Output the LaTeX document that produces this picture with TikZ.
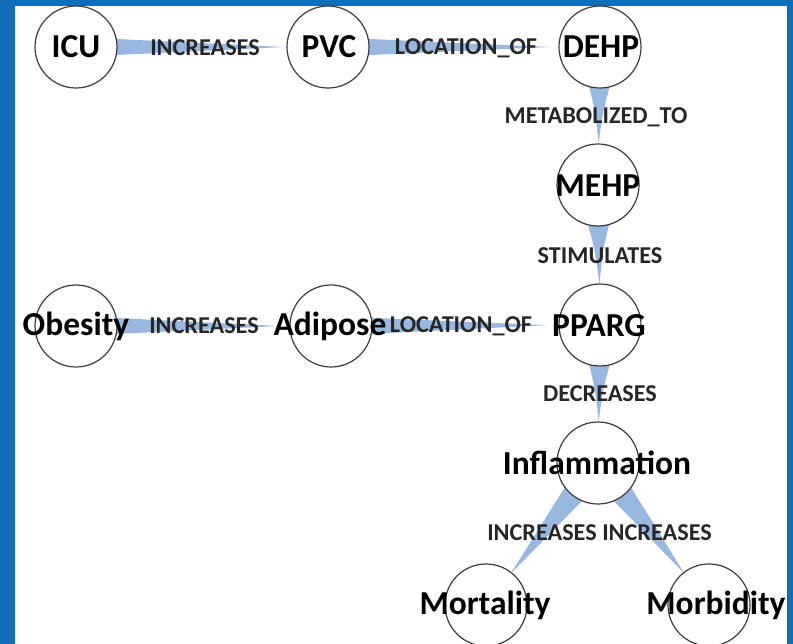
\documentclass[tikz,border=0pt]{standalone}
\usepackage{fontspec}
\setmainfont{Carlito}
\usetikzlibrary{calc}
\definecolor{frameblue}{RGB}{16,110,184}
\definecolor{bandblue}{RGB}{152,184,224}
\definecolor{ringgray}{RGB}{60,60,60}
% #1 source node, #2 target node, #3 half width, #4 control offset, #5 gap at target
\newcommand\taper[5]{%
  \path ($(#1)!30pt!(#2)$) coordinate (tpS) ($(#2)!#5!(#1)$) coordinate (tpT)
        ($(tpS)!0.5!(tpT)$) coordinate (tpM);
  \fill[band] ($(tpS)!#3!90:(tpT)$) .. controls ($(tpM)!#4!90:(tpT)$) .. (tpT)
        .. controls ($(tpM)!#4!-90:(tpT)$) .. ($(tpS)!#3!-90:(tpT)$) -- cycle;
}
\begin{document}
\begin{tikzpicture}[x=1pt,y=-1pt,
  ring/.style={circle,draw=ringgray,line width=1.2pt,fill=white,minimum size=82pt,inner sep=0pt},
  nlab/.style={font=\fontsize{33.5}{34}\selectfont\bfseries,text=black,inner sep=0pt},
  elab/.style={font=\fontsize{24.2}{25}\selectfont\bfseries,text=black!85,inner sep=0pt},
  band/.style={fill=bandblue}]
\useasboundingbox (0,0) rectangle (793,644);
\fill[frameblue] (0,0) rectangle (793,644);
\fill[white] (15,6) rectangle (787,644);

% circle positions
\coordinate (icu) at (76,47);
\coordinate (pvc) at (328,47);
\coordinate (dehp) at (600,47);
\coordinate (mehp) at (598,185);
\coordinate (pparg) at (600,325);
\coordinate (infl) at (598,463);
\coordinate (mort) at (486,605);
\coordinate (morb) at (709,605);
\coordinate (obes) at (76,326);
\coordinate (adip) at (331,326);

% tapered connectors
\taper{icu}{pvc}{8.5pt}{5pt}{44pt}
\taper{pvc}{dehp}{8.5pt}{5pt}{50pt}
\taper{dehp}{mehp}{13pt}{4pt}{42pt}
\taper{mehp}{pparg}{13pt}{4pt}{41pt}
\taper{obes}{adip}{8.5pt}{5pt}{52pt}
\taper{adip}{pparg}{8.5pt}{5pt}{53pt}
\taper{pparg}{infl}{13pt}{4pt}{42pt}
\taper{infl}{mort}{12pt}{6pt}{40pt}
\taper{infl}{morb}{12pt}{6pt}{40pt}

% circles
\node[ring] (icuC) at (icu) {};
\node[ring] (pvcC) at (pvc) {};
\node[ring] (dehpC) at (dehp) {};
\node[ring] (mehpC) at (mehp) {};
\node[ring] (ppargC) at (pparg) {};
\node[ring] (inflC) at (infl) {};
\node[ring] (mortC) at (mort) {};
\node[ring] (morbC) at (morb) {};
\node[ring] (obesC) at (obes) {};
\node[ring] (adipC) at (adip) {};

% node labels
\node[nlab] (icuT) at (76,47) {ICU};
\node[nlab] (pvcT) at (329,47) {PVC};
\node[nlab] (dehpT) at (601,47) {DEHP};
\node[nlab] (mehpT) at (598,186) {MEHP};
\node[nlab] (ppargT) at (599,326) {PPARG};
\node[nlab] (inflT) at (597,463) {Inflammation};
\node[nlab] (mortT) at (485,605) {Mortality};
\node[nlab] (morbT) at (716,605) {Morbidity};
\node[nlab] (obesT) at (76,326) {Obesity};
\node[nlab] (adipT) at (330,326) {Adipose};

% edge labels
\node[elab] (e1) at (205,48) {INCREASES};
\node[elab] (e2) at (466,48) {LOCATION\_OF};
\node[elab] (e3) at (596,117) {METABOLIZED\_TO};
\node[elab] (e4) at (600,256) {STIMULATES};
\node[elab] (e5) at (204,326) {INCREASES};
\node[elab] (e6) at (461,326) {LOCATION\_OF};
\node[elab] (e7) at (600,394) {DECREASES};
\node[elab] (e8) at (542,533) {INCREASES};
\node[elab] (e9) at (657,533) {INCREASES};
\end{tikzpicture}
\end{document}
